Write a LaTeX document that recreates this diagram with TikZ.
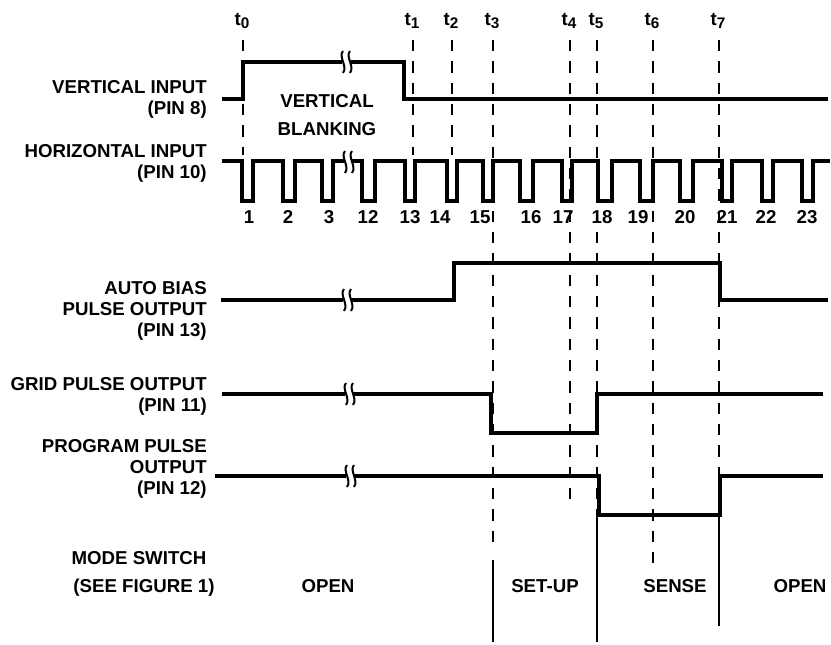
\documentclass[tikz,border=0pt]{standalone}
\usepackage{fontspec}
\setmainfont{Liberation Sans}
\begin{document}
\begin{tikzpicture}[x=0.75pt,y=-0.75pt,
  sig/.style={line width=3.1pt, line join=miter},
  hsig/.style={line width=2.8pt, line join=miter},
  tline/.style={line width=0.95pt, dash pattern=on 8.5pt off 7.5pt},
  mline/.style={line width=0.95pt},
  lbl/.style={font=\fontsize{14}{16}\selectfont\bfseries, inner sep=0pt},
  tlbl/.style={font=\fontsize{14}{16}\selectfont\bfseries, inner sep=0pt, anchor=base},
  brkmark/.pic={
    \fill[white] (-4,-9) rectangle (4,9);
    \draw[line width=1.5pt] (-3,-11) .. controls (-8,-5) and (2,4) .. (-3,11);
    \draw[line width=1.5pt] (4,-11) .. controls (-1,-5) and (9,4) .. (4,11);
  }]
\useasboundingbox (0,0) rectangle (831,644);

% ---------- time marker lines ----------
\foreach \n/\x/\yb in {0/243/155, 1/413/155, 2/452/155, 3/493/550, 4/570/500, 5/597/515, 6/653/565, 7/719/515}{
  \coordinate (ta\n) at (\x,40);
  \coordinate (tb\n) at (\x,\yb);
  \draw[tline] (ta\n) -- (tb\n);
  \node[tlbl] (tl\n) at (\x-1,25) {t\raisebox{-0.35ex}{\fontsize{11.5}{11.5}\selectfont\n}};
}
\coordinate (m3a) at (493,560); \coordinate (m3b) at (493,642);
\coordinate (m5a) at (597,515); \coordinate (m5b) at (597,642);
\coordinate (m7a) at (719,515); \coordinate (m7b) at (719,626);
\draw[mline] (m3a) -- (m3b);
\draw[mline] (m5a) -- (m5b);
\draw[mline] (m7a) -- (m7b);

% ---------- vertical input ----------
\draw[sig] (222,99) -| (243,62) -| (404,99) -- (828,99);
\pic at (346,62) {brkmark};
\node[lbl, anchor=base] (vb1) at (327,107) {VERTICAL};
\node[lbl, anchor=base] (vb2) at (327,135) {BLANKING};

% ---------- horizontal input ----------
\draw[hsig] (222,161) -| (242,201) -| (253,161) -| (283,201) -| (295,161)
  -| (322,201) -| (333,161) -| (362,201) -| (375,161) -| (405,201) -| (415,161)
  -| (447,201) -| (457,161) -| (483,201) -| (493,161) -| (520,201) -| (533,161)
  -| (562,201) -| (572,161) -| (598,201) -| (612,161) -| (640,201) -| (653,161)
  -| (680,201) -| (693,161) -| (722,201) -| (732,161) -| (762,201) -| (773,161)
  -| (802,201) -| (813,161) -- (830,161);
\pic at (348,162) {brkmark};
\foreach \t/\x in {1/249, 2/288, 3/329, 12/368, 13/410, 14/440, 15/480, 16/531, 17/563, 18/602, 19/638, 20/685, 21/727, 22/766, 23/807}{
  \node[lbl, anchor=base] (p\t) at (\x,223) {\t};
}

% ---------- auto bias ----------
\draw[sig] (221,300) -| (454,263) -| (720,300) -- (828,300);
\pic at (347,300) {brkmark};

% ---------- grid pulse ----------
\draw[sig] (222,394) -| (491,433) -| (597,394) -- (823,394);
\pic at (349,394) {brkmark};

% ---------- program pulse ----------
\draw[sig] (215,476) -| (599,515) -| (720,476) -- (823,476);
\pic at (350,476) {brkmark};

% ---------- left labels ----------
\node[lbl, anchor=base east] (l1a) at (207,93) {VERTICAL INPUT};
\node[lbl, anchor=base east] (l1b) at (207,114) {(PIN 8)};
\node[lbl, anchor=base east] (l2a) at (207,157) {HORIZONTAL INPUT};
\node[lbl, anchor=base east] (l2b) at (207,178) {(PIN 10)};
\node[lbl, anchor=base east] (l3a) at (207,294) {AUTO BIAS};
\node[lbl, anchor=base east] (l3b) at (207,315) {PULSE OUTPUT};
\node[lbl, anchor=base east] (l3c) at (207,336) {(PIN 13)};
\node[lbl, anchor=base east] (l4a) at (207,390) {GRID PULSE OUTPUT};
\node[lbl, anchor=base east] (l4b) at (207,411) {(PIN 11)};
\node[lbl, anchor=base east] (l5a) at (207,452) {PROGRAM PULSE};
\node[lbl, anchor=base east] (l5b) at (207,473) {OUTPUT};
\node[lbl, anchor=base east] (l5c) at (207,494) {(PIN 12)};
\node[lbl, anchor=base] (l6a) at (139,564) {MODE SWITCH};
\node[lbl, anchor=base] (l6b) at (144,592) {(SEE FIGURE 1)};

% ---------- mode switch states ----------
\node[lbl, anchor=base] (s1) at (328,592) {OPEN};
\node[lbl, anchor=base] (s2) at (545,592) {SET-UP};
\node[lbl, anchor=base] (s3) at (675,592) {SENSE};
\node[lbl, anchor=base] (s4) at (800,592) {OPEN};
\end{tikzpicture}
\end{document}
